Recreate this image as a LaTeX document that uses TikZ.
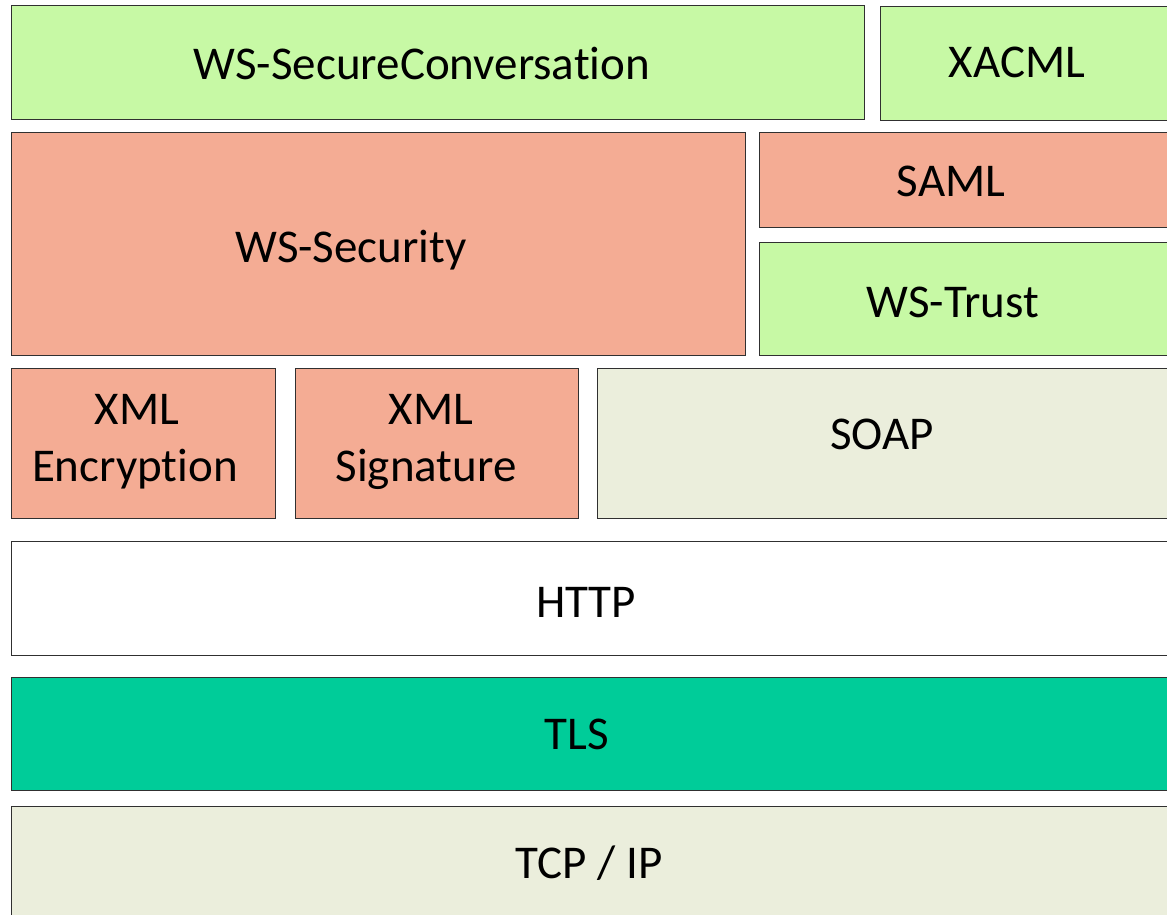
\documentclass[tikz,border=0pt]{standalone}
\usepackage{fontspec}
\setmainfont{Carlito}[Ligatures=NoCommon]
\definecolor{lgreen}{HTML}{C7F9A5}
\definecolor{salmon}{HTML}{F4AC94}
\definecolor{beige}{HTML}{EBEEDC}
\definecolor{tls}{HTML}{00CC99}
\definecolor{edge}{HTML}{303030}
\tikzset{
  layer/.style={draw=edge, line width=1pt, rectangle, inner sep=0pt, outer sep=0pt},
  green/.style={layer, fill=lgreen},
  red/.style={layer, fill=salmon},
  pale/.style={layer, fill=beige},
  lbl/.style={anchor=base, inner sep=0pt, font=\fontsize{47}{57}\selectfont},
}
\newcommand{\layerbox}[6]{% style, name, x1, y1, x2, y2
  \node[#1, minimum width={(#5-#3)*1pt}, minimum height={(#6-#4)*1pt}] (#2) at ({(#3+#5)/2},{(#4+#6)/2}) {};}
\begin{document}
\begin{tikzpicture}[x=1pt,y=-1pt]
\useasboundingbox (0,0) rectangle (1167,915);
\clip (0,0) rectangle (1167,915);
\layerbox{green}{wssc}{11}{6}{864}{120}
\layerbox{green}{xacml}{880}{7}{1185}{121}
\layerbox{red}{wssec}{11}{133}{745}{355}
\layerbox{red}{saml}{759}{133}{1185}{227}
\layerbox{green}{wstrust}{759}{242}{1185}{355}
\layerbox{red}{xmlenc}{11}{368}{275}{518}
\layerbox{red}{xmlsig}{295}{368}{578}{518}
\layerbox{pale}{soap}{597}{368}{1185}{518}
\layerbox{layer}{http}{11}{541}{1185}{655}
\layerbox{layer,fill=tls}{tls}{11}{677}{1185}{790}
\layerbox{pale}{tcp}{11}{806}{1185}{935}
\node[lbl] (wssc-t) at (422,80) {WS-SecureConversation};
\node[lbl] (xacml-t) at (1017,78) {XACML};
\node[lbl] (wssec-t) at (351,262) {WS-Security};
\node[lbl] (saml-t) at (951,196) {SAML};
\node[lbl] (wstrust-t) at (953,317) {WS-Trust};
\node[lbl] (xmlenc-t1) at (137,424) {XML};
\node[lbl] (xmlenc-t2) at (135,481) {Encryption};
\node[lbl] (xmlsig-t1) at (431,424) {XML};
\node[lbl] (xmlsig-t2) at (426,481) {Signature};
\node[lbl] (soap-t) at (882,449) {SOAP};
\node[lbl] (http-t) at (586,617) {HTTP};
\node[lbl] (tls-t) at (577,749) {TLS};
\node[lbl] (tcp-t) at (589,878) {TCP / IP};
\end{tikzpicture}
\end{document}
